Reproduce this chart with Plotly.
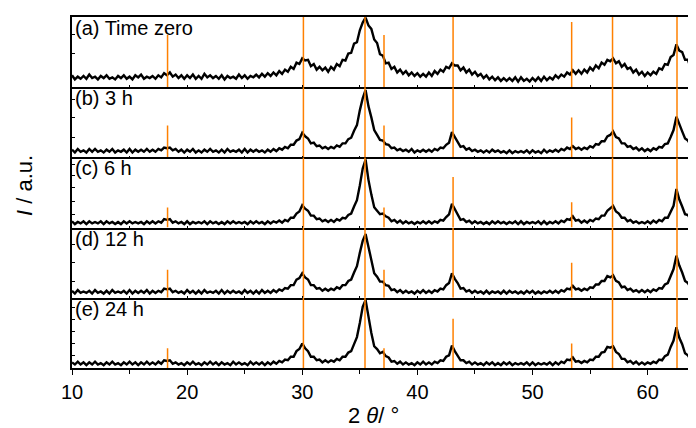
import numpy as np
import plotly.graph_objects as go
from plotly.subplots import make_subplots

# 2-theta scan, 0.25 deg steps (intensity in % of panel height)
two_theta = np.round(np.arange(10, 64.26, 0.25), 2)

time_zero = [17, 11, 15, 12, 16, 12, 18, 13, 15, 11, 16, 13, 17, 12, 14, 11,
             16, 13, 17, 12, 15, 11, 17, 14, 18, 12, 15, 13, 16, 12, 17, 14,
             20, 17, 21, 15, 18, 13, 17, 12, 17, 13, 18, 12, 16, 12, 19, 14,
             17, 13, 16, 12, 17, 11, 16, 13, 15, 12, 18, 13, 17, 12, 16, 14,
             18, 14, 19, 15, 20, 16, 21, 17, 23, 19, 25, 22, 29, 26, 35, 33,
             41, 38, 39, 30, 33, 25, 29, 24, 28, 22, 29, 25, 33, 30, 39, 38,
             48, 49, 62, 64, 81, 92, 99, 88, 83, 68, 63, 47, 45, 34, 35, 26,
             29, 21, 25, 19, 23, 17, 21, 16, 20, 15, 19, 15, 21, 16, 23, 19,
             25, 22, 29, 27, 34, 31, 31, 24, 28, 21, 25, 18, 22, 16, 19, 13,
             17, 11, 15, 10, 14, 9, 13, 9, 13, 9, 14, 8, 14, 9, 12, 8,
             13, 9, 14, 9, 15, 10, 14, 11, 17, 13, 18, 15, 21, 18, 24, 19,
             24, 19, 25, 21, 28, 24, 31, 27, 35, 32, 39, 37, 41, 34, 37, 29,
             33, 26, 28, 21, 25, 18, 22, 16, 21, 17, 22, 19, 27, 25, 33, 32,
             43, 46, 61, 52, 50, 39, 39, 27, 24, 16]

h3 = [11, 7, 12, 8, 10, 7, 12, 8, 12, 8, 10, 7, 11, 8, 12, 7,
      10, 8, 11, 7, 12, 7, 11, 8, 11, 8, 12, 8, 11, 8, 12, 10,
      14, 13, 14, 10, 12, 8, 11, 7, 11, 8, 12, 7, 10, 7, 11, 8,
      12, 8, 10, 7, 11, 7, 12, 8, 10, 8, 11, 7, 12, 7, 11, 8,
      11, 8, 10, 7, 11, 8, 12, 9, 13, 11, 15, 13, 18, 18, 24, 26,
      35, 30, 27, 20, 21, 16, 17, 13, 15, 12, 15, 13, 17, 15, 20, 20,
      26, 28, 38, 46, 67, 84, 96, 73, 57, 39, 32, 25, 24, 19, 18, 13,
      14, 10, 12, 9, 11, 8, 12, 7, 10, 8, 11, 8, 11, 8, 12, 10,
      14, 13, 18, 21, 36, 29, 22, 15, 16, 11, 13, 9, 11, 8, 10, 7,
      10, 7, 11, 8, 10, 7, 9, 6, 10, 6, 9, 7, 9, 7, 10, 6,
      10, 7, 9, 6, 11, 7, 10, 8, 11, 8, 12, 10, 14, 12, 16, 12,
      14, 11, 14, 12, 16, 14, 19, 18, 23, 23, 30, 32, 37, 29, 27, 20,
      20, 15, 16, 12, 14, 10, 13, 9, 12, 9, 13, 11, 15, 14, 19, 20,
      29, 39, 58, 46, 37, 27, 24, 17, 17, 12]

h6 = [9, 5, 8, 6, 9, 5, 9, 6, 8, 6, 9, 5, 9, 6, 8, 5,
      8, 5, 9, 6, 9, 6, 8, 6, 8, 5, 9, 6, 9, 6, 9, 7,
      12, 11, 12, 7, 9, 6, 8, 5, 9, 5, 8, 6, 8, 6, 9, 5,
      9, 6, 8, 5, 8, 5, 9, 6, 9, 6, 8, 6, 8, 5, 9, 6,
      9, 6, 8, 5, 9, 6, 9, 7, 10, 7, 11, 9, 14, 14, 20, 23,
      32, 27, 24, 17, 17, 12, 13, 9, 11, 8, 11, 8, 12, 10, 14, 13,
      18, 20, 30, 39, 60, 84, 97, 68, 47, 29, 24, 19, 20, 16, 14, 9,
      11, 7, 10, 6, 9, 6, 8, 5, 8, 6, 9, 6, 9, 6, 9, 7,
      11, 10, 15, 19, 34, 26, 19, 11, 12, 8, 10, 6, 9, 6, 8, 5,
      8, 5, 9, 6, 9, 6, 8, 5, 8, 6, 9, 5, 9, 5, 8, 6,
      8, 6, 9, 5, 9, 5, 8, 6, 9, 6, 10, 8, 12, 11, 16, 10,
      11, 7, 10, 7, 11, 9, 13, 12, 17, 17, 24, 27, 31, 23, 20, 14,
      14, 9, 11, 7, 9, 6, 8, 6, 9, 6, 10, 7, 11, 9, 14, 14,
      22, 31, 55, 40, 30, 19, 18, 11, 12, 8]

h12 = [10, 6, 11, 7, 9, 7, 10, 6, 11, 7, 9, 6, 10, 6, 11, 7,
       9, 7, 10, 6, 11, 6, 10, 7, 10, 7, 11, 6, 10, 7, 10, 8,
       13, 12, 13, 8, 10, 7, 9, 6, 11, 7, 10, 6, 10, 6, 11, 7,
       9, 7, 10, 6, 11, 6, 10, 7, 10, 7, 9, 6, 11, 7, 10, 6,
       10, 6, 11, 7, 10, 7, 11, 8, 12, 10, 14, 13, 18, 18, 26, 28,
       35, 29, 26, 18, 18, 13, 14, 10, 13, 10, 13, 11, 15, 13, 18, 18,
       24, 26, 36, 45, 64, 81, 91, 70, 54, 35, 30, 23, 23, 18, 17, 11,
       12, 8, 11, 7, 10, 7, 9, 6, 10, 7, 11, 7, 10, 7, 11, 9,
       13, 12, 18, 21, 35, 27, 21, 13, 14, 9, 11, 7, 10, 7, 9, 6,
       10, 6, 9, 7, 9, 6, 10, 6, 10, 7, 9, 6, 9, 6, 10, 7,
       10, 6, 9, 6, 9, 7, 10, 7, 10, 7, 11, 9, 13, 12, 17, 12,
       13, 10, 13, 11, 15, 14, 19, 19, 24, 24, 31, 29, 32, 24, 22, 15,
       16, 11, 13, 9, 11, 8, 11, 8, 11, 8, 12, 10, 14, 13, 19, 21,
       32, 41, 60, 46, 36, 24, 21, 14, 14, 10]

h24 = [8, 5, 9, 5, 8, 4, 8, 5, 9, 5, 7, 4, 8, 5, 9, 5,
       7, 4, 8, 5, 9, 5, 8, 4, 8, 5, 9, 5, 8, 5, 9, 6,
       11, 10, 11, 6, 8, 5, 7, 4, 8, 5, 9, 5, 7, 4, 8, 5,
       9, 5, 8, 4, 8, 5, 7, 4, 9, 5, 8, 5, 7, 4, 9, 5,
       8, 5, 8, 4, 8, 5, 9, 6, 10, 8, 12, 11, 16, 16, 24, 27,
       35, 28, 24, 16, 16, 11, 12, 8, 11, 8, 11, 9, 13, 11, 16, 16,
       22, 24, 34, 44, 64, 87, 97, 70, 50, 31, 27, 21, 23, 17, 15, 9,
       10, 6, 9, 5, 8, 5, 7, 4, 8, 5, 9, 5, 8, 5, 9, 7,
       11, 10, 16, 18, 32, 24, 18, 11, 11, 7, 9, 5, 8, 5, 7, 4,
       8, 5, 8, 4, 7, 4, 8, 5, 8, 4, 7, 5, 7, 5, 8, 4,
       8, 4, 7, 5, 7, 5, 8, 4, 8, 5, 9, 7, 12, 11, 15, 9,
       10, 7, 10, 8, 12, 11, 16, 16, 22, 23, 30, 29, 31, 23, 20, 13,
       13, 8, 10, 6, 9, 5, 8, 5, 8, 6, 9, 7, 12, 11, 17, 19,
       30, 39, 58, 43, 34, 21, 18, 11, 11, 7]

patterns = [time_zero, h3, h6, h12, h24]
labels = ["(a) Time zero", "(b) 3 h", "(c) 6 h", "(d) 12 h", "(e) 24 h"]

# reference stick pattern (relative intensity)
stick_pos = [18.3, 30.1, 35.45, 37.1, 43.1, 53.4, 56.95, 62.55]
stick_int = [8, 30, 100, 8, 20, 10, 30, 40]
stick_scale = [9.3, 5.7, 3.6, 5.0, 3.5]

ytick_sets = [[48, 75], [28, 57, 83], [18, 37, 57, 74, 90], [23, 50, 76], [18, 35, 52, 69, 86]]

fig = make_subplots(rows=5, cols=1, shared_xaxes=True, vertical_spacing=0)

for k in range(5):
    r = k + 1
    fig.add_trace(go.Scatter(x=two_theta, y=patterns[k], mode="lines",
                             line=dict(color="black", width=2.4),
                             showlegend=False, hoverinfo="skip"), row=r, col=1)
    sx, sy = [], []
    for p, inten in zip(stick_pos, stick_int):
        sx += [p, p, None]
        sy += [0, inten * stick_scale[k], None]
    fig.add_trace(go.Scatter(x=sx, y=sy, mode="lines",
                             line=dict(color="#ff8000", width=1.5),
                             showlegend=False, hoverinfo="skip"), row=r, col=1)
    fig.update_yaxes(range=[0, 100], showline=True, linecolor="black", linewidth=1.5,
                     mirror=False, showgrid=False, zeroline=False,
                     tickvals=ytick_sets[k], showticklabels=False,
                     ticks="inside", ticklen=3, tickcolor="black", row=r, col=1)
    fig.update_xaxes(range=[10, 64.2], showline=True, linecolor="black", linewidth=1.5,
                     mirror=(k == 0), showgrid=False, zeroline=False, dtick=5,
                     ticks="inside", ticklen=2, tickcolor="black",
                     showticklabels=False, row=r, col=1)
    fig.add_annotation(text=labels[k], xref="x domain", yref="y domain",
                       x=0.002, y=1.0, yshift=2, xanchor="left", yanchor="top",
                       showarrow=False,
                       font=dict(size=20, color="black", family="Liberation Sans"),
                       row=r, col=1)

fig.update_xaxes(ticks="outside", ticklen=5, dtick=10, tick0=10, showticklabels=True,
                 minor=dict(ticks="outside", ticklen=4, dtick=5, tick0=10, tickcolor="black"),
                 tickfont=dict(size=20, color="black"), row=5, col=1)

fig.add_annotation(text="2 <i>θ</i>/ °", xref="paper", yref="paper",
                   x=(365 - 64) / 624, y=-0.136, xanchor="center", yanchor="middle",
                   showarrow=False, font=dict(size=22, color="black"))
fig.add_annotation(text="<i>I</i> / a.u.", xref="paper", yref="paper",
                   x=-0.076, y=0.52, xanchor="center", yanchor="middle", textangle=-90,
                   showarrow=False, font=dict(size=22, color="black"))

fig.update_layout(width=696, height=428, margin=dict(l=64, r=8, t=7, b=68),
                  plot_bgcolor="white", paper_bgcolor="white",
                  font=dict(family="Liberation Sans, Arial, sans-serif", color="black"))

fig.write_html("out.html")
